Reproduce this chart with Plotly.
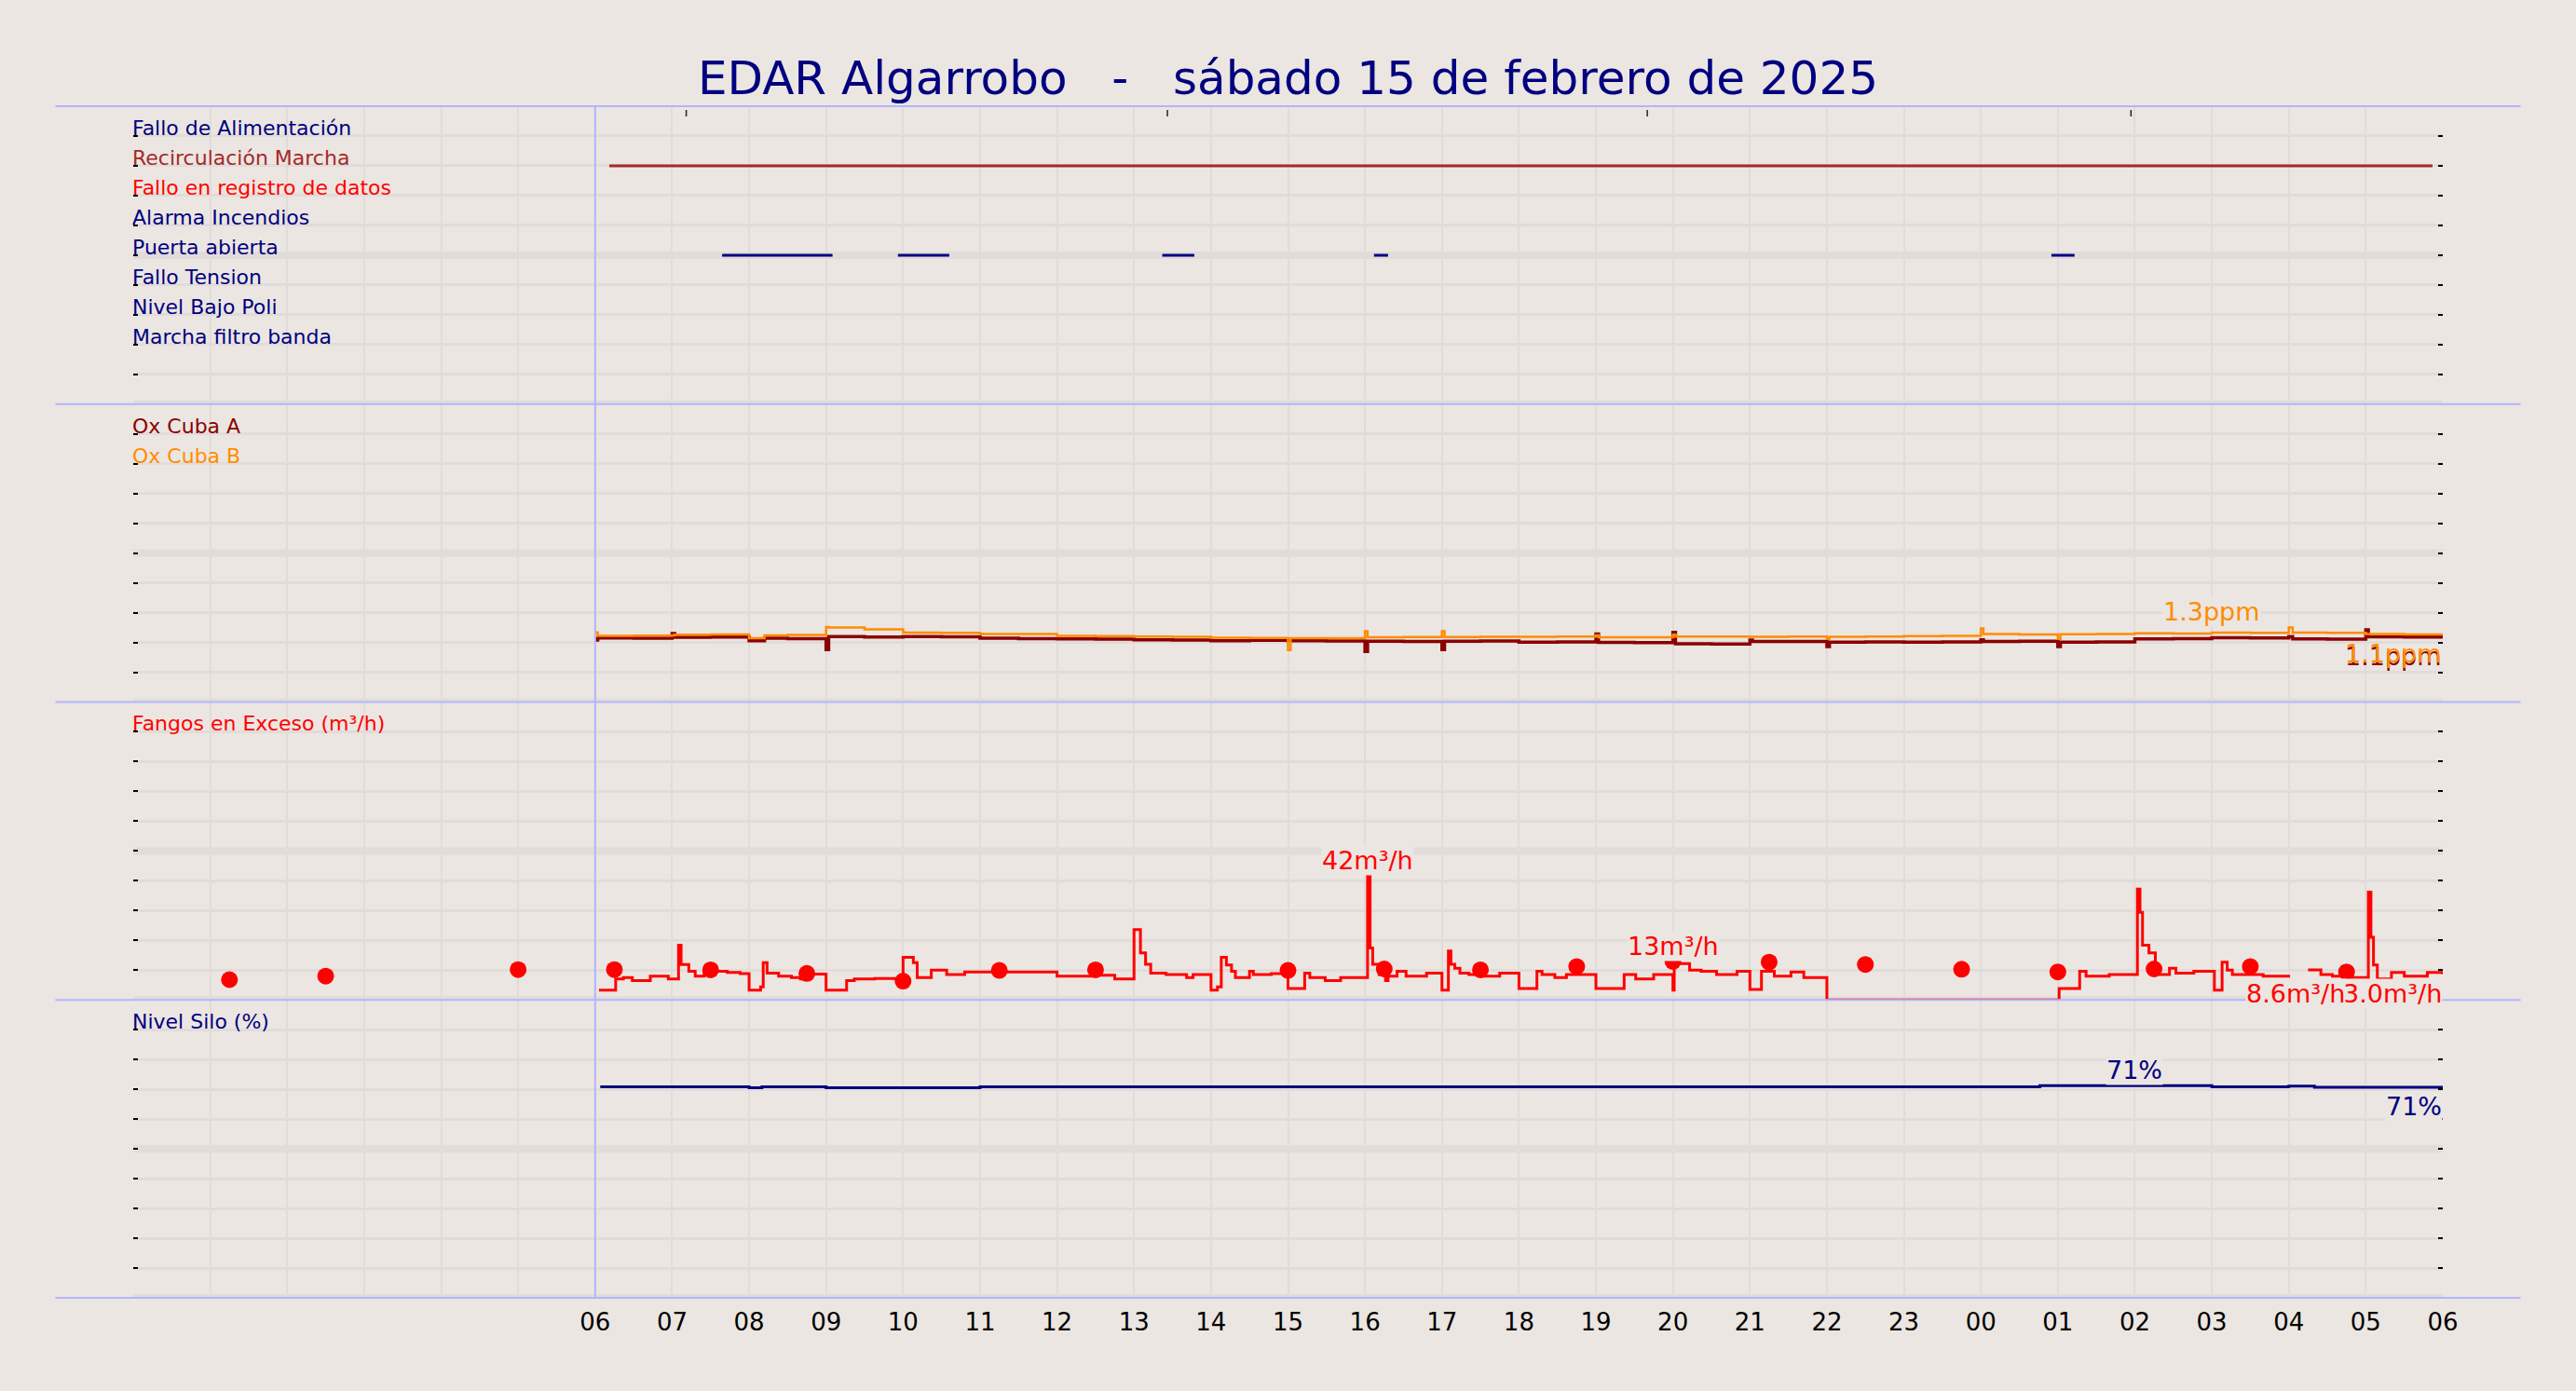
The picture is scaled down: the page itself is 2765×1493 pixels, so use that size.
import pandas as pd
import plotly.graph_objects as go
from plotly.subplots import make_subplots

# ---------------- data ----------------
DAY = "2025-02-15"
X_START = "2025-02-15 00:00"
X_END = "2025-02-16 06:00"

hour_labels = ["", "", "", "", "", "",
               "06", "07", "08", "09", "10", "11", "12", "13", "14", "15", "16", "17",
               "18", "19", "20", "21", "22", "23", "00", "01", "02", "03", "04", "05", "06"]

signal_names = ["Fallo de Alimentación", "Recirculación Marcha", "Fallo en registro de datos",
                "Alarma Incendios", "Puerta abierta", "Fallo Tension", "Nivel Bajo Poli",
                "Marcha filtro banda"]
signal_levels = [9, 8, 7, 6, 5, 4, 3, 2]
signal_spans = [
    [],
    [("06:11", "05:52")],
    [],
    [],
    [("07:39", "09:05"), ("09:56", "10:36"), ("13:22", "13:47"), ("16:07", "16:18"), ("00:55", "01:13")],
    [],
    [],
    [],
]

ox_times = ["06:00", "06:02", "06:30", "07:00", "07:02", "07:30", "08:00", "08:12", "08:30",
            "09:00", "09:02", "09:30", "10:00", "10:02", "10:30", "11:00", "11:02", "11:30",
            "12:00", "12:02", "12:30", "13:00", "13:02", "13:30", "14:00", "14:02", "14:30",
            "15:00", "15:02", "15:30", "16:00", "16:02", "16:30", "17:00", "17:02", "17:30",
            "18:00", "18:02", "18:30", "19:00", "19:02", "19:30", "20:00", "20:02", "20:30",
            "21:00", "21:02", "21:30", "22:00", "22:02", "22:30", "23:00", "23:02", "23:30",
            "00:00", "00:02", "00:30", "01:00", "01:02", "01:30", "02:00", "02:02", "02:30",
            "03:00", "03:02", "03:30", "04:00", "04:03", "04:30", "05:00", "05:02", "05:30", "06:00"]
ox_a = [1.04, 1.075, 1.07, 1.15, 1.085, 1.09, 1.03, 1.07, 1.065,
        0.88, 1.10, 1.09, 1.10, 1.10, 1.095, 1.07, 1.07, 1.065,
        1.06, 1.06, 1.055, 1.045, 1.045, 1.04, 1.03, 1.03, 1.035,
        1.03, 1.03, 1.025, 0.85, 1.02, 1.015, 0.88, 1.02, 1.025,
        1.005, 1.005, 1.01, 1.14, 1.0, 0.995, 1.17, 0.977, 0.975,
        1.04, 1.018, 1.015, 0.93, 1.005, 1.01, 1.005, 1.005, 1.01,
        1.044, 1.018, 1.02, 0.93, 1.005, 1.01, 1.06, 1.06, 1.065,
        1.08, 1.08, 1.075, 1.10, 1.06, 1.055, 1.21, 1.096, 1.09, 1.085]
ox_b = [1.17, 1.11, 1.115, 1.12, 1.13, 1.135, 1.07, 1.12, 1.125,
        1.26, 1.25, 1.22, 1.17, 1.165, 1.16, 1.145, 1.14, 1.14,
        1.11, 1.11, 1.105, 1.10, 1.10, 1.095, 1.08, 1.08, 1.075,
        0.87, 1.07, 1.07, 1.19, 1.085, 1.09, 1.19, 1.09, 1.095,
        1.095, 1.095, 1.10, 1.12, 1.085, 1.085, 1.13, 1.10, 1.10,
        1.095, 1.095, 1.10, 1.06, 1.096, 1.10, 1.107, 1.107, 1.11,
        1.237, 1.14, 1.135, 1.06, 1.138, 1.14, 1.154, 1.154, 1.15,
        1.164, 1.164, 1.16, 1.25, 1.165, 1.16, 1.14, 1.14, 1.135, 1.135]

fangos_times = ["06:03", "06:16", "06:22", "06:29", "06:43", "06:57", "07:05", "07:07", "07:13", "07:18",
                "07:25", "07:31", "07:43", "07:53", "08:00", "08:09", "08:11", "08:14", "08:23", "08:33",
                "08:40", "08:47", "09:00", "09:16", "09:22", "09:38", "09:54", "10:00", "10:08", "10:11",
                "10:22", "10:34", "10:48", "12:00", "12:27", "12:45", "13:00", "13:05", "13:09", "13:13",
                "13:25", "13:41", "13:46", "14:00", "14:05", "14:08", "14:12", "14:16", "14:19", "14:30",
                "14:33", "14:47", "15:00", "15:13", "15:17", "15:29", "15:41", "16:02", "16:04", "16:06",
                "16:11", "16:16", "16:18", "16:25", "16:32", "16:48", "17:00", "17:05", "17:07", "17:10",
                "17:14", "17:21", "17:31", "17:45", "18:00", "18:14", "18:18", "18:28", "18:37", "19:00",
                "19:22", "19:31", "19:45", "20:00", "20:01", "20:08", "20:13", "20:22", "20:34", "20:50",
                "21:00", "21:09", "21:19", "21:32", "21:42", "22:00", "01:01", "01:17", "01:22", "01:40",
                "02:02", "02:04", "02:06", "02:11", "02:16", "02:18", "02:27", "02:32", "02:46", "03:02",
                "03:08", "03:12", "03:16", "03:40", "04:01", "04:02", "04:15", "04:25", "04:34", "04:48",
                "05:02", "05:04", "05:06", "05:09", "05:20", "05:30", "05:48", "06:00"]
fangos_vals = [3.3, 7.0, 7.5, 6.5, 8.0, 7.0, 18.4, 11.9, 9.6, 8.0,
               9.0, 9.6, 9.2, 8.8, 3.3, 4.4, 12.5, 9.0, 8.0, 7.5,
               7.0, 8.7, 3.3, 6.5, 7.0, 7.2, 7.0, 14.3, 12.5, 7.5,
               10.0, 8.5, 9.4, 8.0, 8.3, 7.0, 23.6, 15.8, 12.0, 9.0,
               8.5, 7.5, 8.5, 3.3, 4.4, 14.3, 11.7, 9.6, 7.5, 9.6,
               8.5, 8.8, 3.8, 9.0, 7.5, 6.5, 7.5, 41.6, 17.4, 12.0,
               8.5, 6.5, 8.0, 9.6, 8.0, 9.0, 3.3, 16.4, 12.0, 10.6,
               9.0, 8.5, 8.0, 9.0, 3.8, 9.6, 8.5, 7.5, 8.5, 3.8,
               8.5, 7.0, 8.5, 3.3, 12.2, 12.2, 10.0, 9.6, 8.5, 9.6,
               3.5, 9.6, 8.0, 9.4, 7.5, 0.0, 3.8, 9.6, 8.0, 8.5,
               37.2, 29.4, 18.4, 15.8, 11.7, 8.5, 10.6, 9.0, 9.6, 3.3,
               12.7, 10.0, 8.5, 8.0, 8.0, None, 10.1, 8.5, 8.0, 7.5,
               36.2, 21.0, 11.7, 7.0, 9.2, 8.0, 9.2, 8.6]

dot_times = ["01:15", "02:30", "05:00", "06:15", "07:30", "08:45", "10:00", "11:15", "12:30",
             "15:00", "16:15", "17:30", "18:45", "20:00", "21:15", "22:30", "23:45",
             "01:00", "02:15", "03:30", "04:45"]
dot_vals = [6.8, 8.0, 10.2, 10.2, 10.1, 8.9, 6.3, 9.9, 10.1,
            9.9, 10.4, 10.1, 11.2, 12.9, 12.7, 11.9, 10.3,
            9.4, 10.4, 11.2, 9.4]

silo_times = ["06:04", "08:00", "08:10", "09:00", "11:00", "00:46", "03:00", "04:00", "04:20", "06:00"]
silo_vals = [70.8, 70.5, 70.8, 70.5, 70.8, 71.2, 70.8, 71.1, 70.7, 70.7]

top_mark_times = ["07:11", "13:26", "19:40", "01:57"]

# peak labels: (series, time, value, text)
peak_labels = [
    ("ox_b", "03:00", 1.26, "1.3ppm"),
    ("fangos", "16:02", 41.6, "42m³/h"),
    ("fangos", "20:00", 12.9, "13m³/h"),
    ("silo", "02:00", 71.2, "71%"),
]
end_labels = [
    ("ox_a", 1.085, "1.1ppm"),
    ("ox_b", 1.135, "1.1ppm"),
    ("fangos", 8.6, "3.0m³/h"),
    ("fangos_dots", 8.6, "8.6m³/h"),
    ("silo", 70.7, "71%"),
]

# ---------------- helpers ----------------
def stamp(times, day=DAY):
    """HH:MM list in chronological order -> timestamps (rolls over midnight)."""
    base = pd.Timestamp(day)
    out, prev, off = [], None, 0
    for s in times:
        h, m = map(int, s.split(":"))
        cur = h * 60 + m
        if prev is not None and cur < prev:
            off += 1
        prev = cur
        out.append(base + pd.Timedelta(days=off, minutes=cur))
    return out


def window(s):
    """HH:MM inside the 06:00 -> 06:00 window."""
    h, m = map(int, s.split(":"))
    d = 1 if h < 6 else 0
    return pd.Timestamp(DAY) + pd.Timedelta(days=d, minutes=h * 60 + m)


# ---------------- style ----------------
BG = "#ebe6e1"
GRID = "#e1dcda"
EDGE = "#b4b4ff"
NAVY = "#000080"
FONT = "DejaVu Sans"
signal_colors = [NAVY, "#a52a2a", "#ff0000", NAVY, NAVY, NAVY, NAVY, NAVY]
C_A = "#8b0000"
C_B = "#ff8c00"
C_F = "#ff0000"

fig = make_subplots(rows=4, cols=1, shared_xaxes=True, vertical_spacing=0)

# panel 1: digital signals
for name, lvl, spans, col in zip(signal_names, signal_levels, signal_spans, signal_colors):
    xs, ys = [], []
    for a, b in spans:
        xs += [window(a), window(b), None]
        ys += [lvl, lvl, None]
    if xs:
        fig.add_trace(go.Scatter(x=xs, y=ys, mode="lines", line=dict(color=col, width=3),
                                 name=name, hoverinfo="skip"), row=1, col=1)

# panel 2: oxygen
ox_x = stamp(ox_times)
fig.add_trace(go.Scatter(x=ox_x, y=ox_a, mode="lines", line=dict(color=C_A, width=3.5, shape="hv"),
                         name="Ox Cuba A"), row=2, col=1)
fig.add_trace(go.Scatter(x=ox_x, y=ox_b, mode="lines", line=dict(color=C_B, width=2.5, shape="hv"),
                         name="Ox Cuba B"), row=2, col=1)

# panel 3: fangos
fig.add_trace(go.Scatter(x=stamp(fangos_times), y=fangos_vals, mode="lines",
                         line=dict(color=C_F, width=3, shape="hv"), connectgaps=False,
                         name="Fangos en Exceso"), row=3, col=1)
fig.add_trace(go.Scatter(x=stamp(dot_times), y=dot_vals, mode="markers",
                         marker=dict(color=C_F, size=18), name="Fangos medio"), row=3, col=1)

# panel 4: silo
fig.add_trace(go.Scatter(x=stamp(silo_times), y=silo_vals, mode="lines",
                         line=dict(color=NAVY, width=3, shape="hv"), name="Nivel Silo"), row=4, col=1)

# axes
tickvals = list(pd.date_range(X_START, X_END, freq="h"))
fig.update_xaxes(range=[X_START, X_END], tickvals=tickvals, ticktext=hour_labels,
                 showgrid=True, gridcolor=GRID, gridwidth=2, zeroline=False, showline=False,
                 ticks="", tickfont=dict(family=FONT, size=26, color="black"))
fig.update_xaxes(showticklabels=True, ticklabelstandoff=8, row=4, col=1)

fig.update_yaxes(showticklabels=False, ticks="inside", ticklen=5, tickwidth=1.5, tickcolor="black",
                 mirror="ticks", showline=False, showgrid=True, gridcolor=GRID, gridwidth=3,
                 zeroline=False)
panel_ranges = [(0, 10, 1), (0, 5, 0.5), (0, 100, 10), (0, 100, 10)]
for i, (lo, hi, dt) in enumerate(panel_ranges):
    fig.update_yaxes(range=[lo, hi], dtick=dt, tick0=0, row=i + 1, col=1)

# shapes: thick bands (middle and bottom of each panel), panel edges, start line, top marks
shapes = []
yrefs = ["y", "y2", "y3", "y4"]
for yr, (lo, hi, dt) in zip(yrefs, panel_ranges):
    for yy in (lo, (lo + hi) / 2):
        shapes.append(dict(type="line", xref="paper", yref=yr, x0=0, x1=1, y0=yy, y1=yy,
                           line=dict(color=GRID, width=8), layer="below"))
for yy in [0, 0.25, 0.5, 0.75, 1.0]:
    shapes.append(dict(type="line", xref="paper", yref="paper", x0=-0.0337, x1=1.0337, y0=yy, y1=yy,
                       line=dict(color=EDGE, width=2), layer="above"))
shapes.append(dict(type="line", xref="x", yref="paper", x0=window("06:00"), x1=window("06:00"),
                   y0=0, y1=1, line=dict(color=EDGE, width=2), layer="above"))
for t in top_mark_times:
    shapes.append(dict(type="line", xref="x", yref="paper", x0=window(t), x1=window(t),
                       ysizemode="pixel", yanchor=1, y0=-4, y1=-11,
                       line=dict(color="#222222", width=1.5)))

# annotations
ann = []
name_font = 22
for name, lvl, col in zip(signal_names, signal_levels, signal_colors):
    ann.append(dict(text=name, xref="paper", yref="y", x=0, y=lvl, xanchor="left", yanchor="bottom",
                    xshift=-3, yshift=-6, showarrow=False,
                    font=dict(family=FONT, size=name_font, color=col)))
ann.append(dict(text="Ox Cuba A", xref="paper", yref="y2", x=0, y=4.5, xanchor="left", yanchor="bottom",
                xshift=-3, yshift=-6, showarrow=False, font=dict(family=FONT, size=name_font, color=C_A)))
ann.append(dict(text="Ox Cuba B", xref="paper", yref="y2", x=0, y=4.0, xanchor="left", yanchor="bottom",
                xshift=-3, yshift=-6, showarrow=False, font=dict(family=FONT, size=name_font, color=C_B)))
ann.append(dict(text="Fangos en Exceso (m³/h)", xref="paper", yref="y3", x=0, y=90, xanchor="left",
                yanchor="bottom", xshift=-3, yshift=-6, showarrow=False,
                font=dict(family=FONT, size=name_font, color=C_F)))
ann.append(dict(text="Nivel Silo (%)", xref="paper", yref="y4", x=0, y=90, xanchor="left",
                yanchor="bottom", xshift=-3, yshift=-6, showarrow=False,
                font=dict(family=FONT, size=name_font, color=NAVY)))

series_style = {"ox_a": ("y2", C_A), "ox_b": ("y2", C_B), "fangos": ("y3", C_F),
                "fangos_dots": ("y3", C_F), "silo": ("y4", NAVY)}
for key, t, v, txt in peak_labels:
    yr, col = series_style[key]
    ann.append(dict(text=txt, xref="x", yref=yr, x=window(t), y=v, xanchor="center", yanchor="bottom",
                    showarrow=False, bgcolor=BG, borderpad=0,
                    font=dict(family=FONT, size=27, color=col)))
end_x = pd.Timestamp(X_END)
for key, v, txt in end_labels:
    yr, col = series_style[key]
    xshift = -104 if key == "fangos_dots" else 0
    bg = "rgba(0,0,0,0)" if key.startswith("ox") else BG
    ann.append(dict(text=txt, xref="x", yref=yr, x=end_x, y=v, xanchor="right", yanchor="top",
                    xshift=xshift, yshift=-4, showarrow=False, bgcolor=bg, borderpad=0,
                    font=dict(family=FONT, size=27, color=col)))

fig.update_layout(
    width=2765, height=1493,
    margin=dict(l=143, r=143, t=114, b=100),
    paper_bgcolor=BG, plot_bgcolor=BG,
    showlegend=False,
    font=dict(family=FONT),
    title=dict(text="EDAR Algarrobo\u00a0\u00a0\u00a0-\u00a0\u00a0\u00a0sábado 15 de febrero de 2025",
               x=0.5, xanchor="center", y=1 - 83 / 1493, yanchor="middle", yref="container",
               font=dict(family=FONT, size=50, color=NAVY)),
    shapes=shapes,
    annotations=ann,
)

fig.write_html("out.html", config={"displayModeBar": False},
               post_script="document.body.style.margin='0';document.body.style.padding='0';"
                           "document.body.style.background='" + BG + "';")
